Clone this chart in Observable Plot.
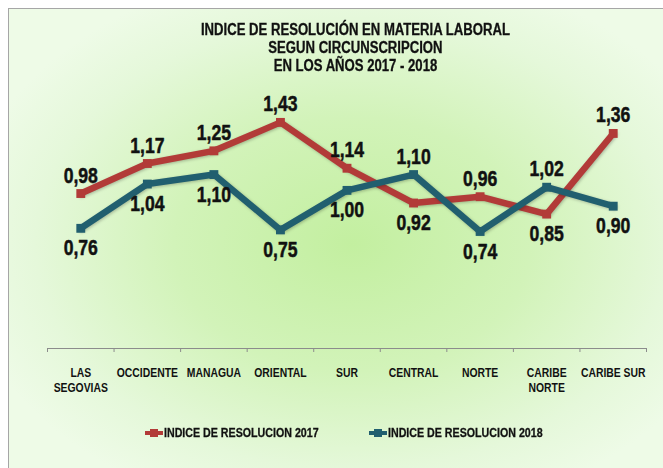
<!DOCTYPE html>
<html>
<head>
<meta charset="utf-8">
<script src="https://cdn.jsdelivr.net/npm/d3@7"></script>
<script src="https://cdn.jsdelivr.net/npm/@observablehq/plot@0.6"></script>
<style>
  html, body { margin: 0; padding: 0; background: #ffffff; }
  #frame {
    position: relative; width: 663px; height: 468px; overflow: hidden; background: #ffffff;
    font-family: "Liberation Sans", Arial, sans-serif;
  }
  #bg {
    position: absolute; left: 8px; top: 8px; width: 660px; height: 470px;
    border-left: 1px solid #a6a6a6; border-top: 1px solid #a6a6a6;
    background: radial-gradient(ellipse 60% 60% at 52% 50%, #c3efa0 0%, #d2f3b9 45%, #e5f8da 80%, #eefbe7 100%);
  }
  #title {
    position: absolute; left: 24px; top: 21px; width: 663px; text-align: center;
  }
  #title span {
    display: inline-block; transform: scaleX(0.82); transform-origin: 50% 50%;
    font-weight: bold; font-size: 16px; line-height: 18px; color: #111; white-space: nowrap;
    -webkit-text-stroke: 0.3px #111;
  }
  #chart { position: absolute; left: 0; top: 0; }
  #legend { position: absolute; top: 425px; left: 0; width: 663px; height: 16px; }
  .item { position: absolute; display: flex; align-items: center; white-space: nowrap; }
  .item .tx { display: inline-block; transform: scaleX(0.82); transform-origin: 0 50%; font-weight: bold; font-size: 13px; color: #111; -webkit-text-stroke: 0.3px #111; }
  .sw { position: relative; width: 18px; height: 14px; margin-right: 1px; }
  .sw .ln { position: absolute; left: 0; top: 5px; width: 18px; height: 4px; }
  .sw .mk { position: absolute; left: 5px; top: 3px; width: 8px; height: 8px; }
</style>
</head>
<body>
<div id="frame">
  <div id="bg"></div>
  <div id="title"><span>INDICE DE RESOLUCIÓN EN MATERIA LABORAL<br>SEGUN CIRCUNSCRIPCION<br>EN LOS AÑOS 2017 - 2018</span></div>
  <div id="chart"></div>
  <div id="legend"></div>
</div>
<script>
const categories = ["LAS\nSEGOVIAS", "OCCIDENTE", "MANAGUA", "ORIENTAL", "SUR", "CENTRAL", "NORTE", "CARIBE\nNORTE", "CARIBE SUR"];
const values2017 = [0.98, 1.17, 1.25, 1.43, 1.14, 0.92, 0.96, 0.85, 1.36];
const values2018 = [0.76, 1.04, 1.10, 0.75, 1.00, 1.10, 0.74, 1.02, 0.90];
const seriesNames = ["INDICE DE RESOLUCION 2017", "INDICE DE RESOLUCION 2018"];
const seriesColors = ["#b23b38", "#215f6f"];

const font = '"Liberation Sans", Arial, sans-serif';

const rows = [];
categories.forEach((c, i) => {
  const a = values2017[i], b = values2018[i];
  rows.push({i, cat: c, value: a, series: seriesNames[0], above: a >= b});
  rows.push({i, cat: c, value: b, series: seriesNames[1], above: b > a});
});
const fmt = v => v.toFixed(2).replace(".", ",");
const xPos = d => d.i + 0.5;

const plot = Plot.plot({
  width: 663,
  height: 468,
  marginLeft: 47,
  marginRight: 17,
  marginTop: 95,
  marginBottom: 120,
  style: {background: "transparent", fontFamily: font, color: "#111", overflow: "visible"},
  x: {domain: [0, categories.length]},
  y: {domain: [0, 1.6], axis: null},
  color: {domain: seriesNames, range: seriesColors},
  marks: [
    Plot.ruleY([0], {stroke: "#8c8c8c", strokeWidth: 1.2}),
    Plot.axisX({ticks: d3.range(categories.length + 1), tickFormat: () => "", tickSize: 4, stroke: "#8c8c8c"}),
    Plot.axisX({
      ticks: categories.map((c, i) => i + 0.5),
      tickFormat: d => categories[Math.floor(d)],
      tickSize: 0, tickPadding: 18,
      fontSize: 13, fontWeight: "bold", lineHeight: 1.15, fill: "#111"
    }),
    Plot.line(rows, {x: xPos, y: "value", z: "series", stroke: "series", strokeWidth: 6.5, strokeLinejoin: "miter"}),
    Plot.dot(rows, {x: xPos, y: "value", fill: "series", symbol: "square", r: 5}),
    Plot.text(rows.filter(d => d.above), {x: xPos, y: "value", text: d => fmt(d.value), dy: -18, fontSize: 22, fontWeight: "bold", fill: "#111", stroke: "#111", strokeWidth: 0.5}),
    Plot.text(rows.filter(d => !d.above), {x: xPos, y: "value", text: d => fmt(d.value), dy: 20, fontSize: 22, fontWeight: "bold", fill: "#111", stroke: "#111", strokeWidth: 0.5})
  ]
});
plot.querySelectorAll('g[aria-label="line"] path').forEach(p => {
  p.style.filter = "drop-shadow(1px 1px 1.5px rgba(0,0,0,0.25))";
});
// condense text horizontally (narrow typeface look)
plot.querySelectorAll("text").forEach(t => {
  const tr = t.getAttribute("transform");
  if (tr) t.setAttribute("transform", tr + " scale(0.8,1)");
});
document.getElementById("chart").appendChild(plot);

const legend = document.getElementById("legend");
const lefts = [145, 369];
seriesNames.forEach((s, k) => {
  const it = document.createElement("div");
  it.className = "item";
  it.style.left = lefts[k] + "px";
  it.innerHTML = `<span class="sw"><span class="ln" style="background:${seriesColors[k]}"></span><span class="mk" style="background:${seriesColors[k]}"></span></span><span class="tx">${s}</span>`;
  legend.appendChild(it);
});
</script>
</body>
</html>
